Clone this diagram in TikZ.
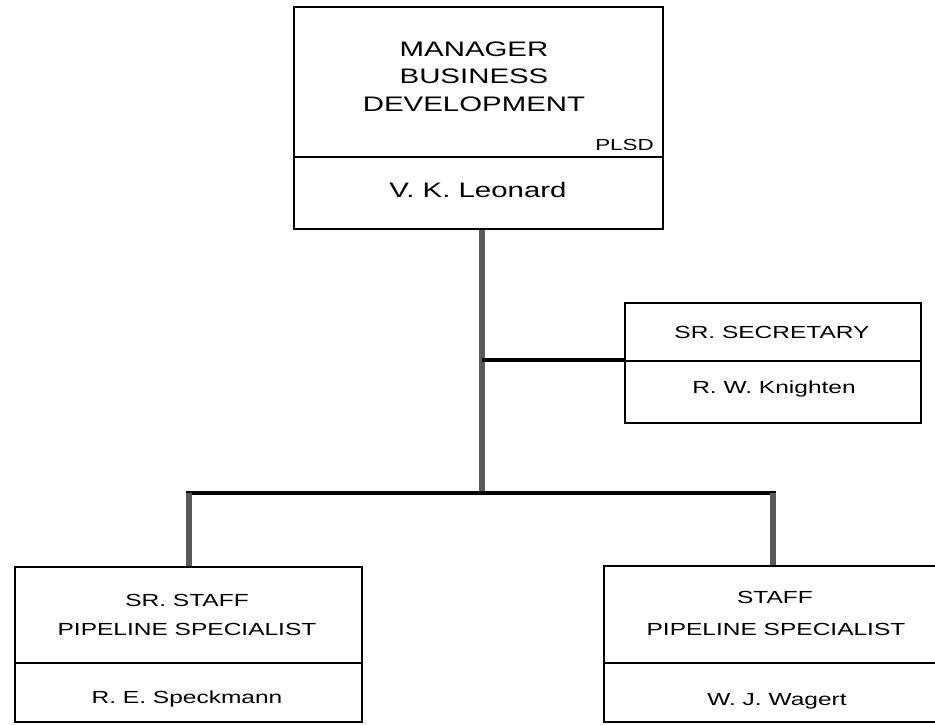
\documentclass[tikz,border=0pt]{standalone}
\usepackage{fontspec}
\setmainfont[FakeStretch=1.4]{Liberation Sans}
\begin{document}
\begin{tikzpicture}[x=1pt,y=-1pt,
  box/.style={draw=black, line width=2pt, rectangle, inner sep=0pt},
  divline/.style={draw=black, line width=2pt},
  vconn/.style={draw=black!65, line width=6pt},
  hconn/.style={draw=black, line width=4.5pt},
  bigtxt/.style={font=\fontsize{21}{25}\selectfont, anchor=base, inner sep=0pt},
  midtxt/.style={font=\fontsize{17.5}{21}\selectfont, anchor=base, inner sep=0pt},
  smalltxt/.style={font=\fontsize{16}{19}\selectfont, anchor=base east, inner sep=0pt}]
\useasboundingbox[fill=white] (0,0) rectangle (935,725);

% boxes
\node[box, minimum width=369pt, minimum height=222pt] (mgr) at (478.5,118) {};
\node[box, minimum width=296pt, minimum height=120pt] (sec) at (773,363) {};
\node[box, minimum width=347pt, minimum height=155pt] (lft) at (188.5,644.5) {};
\node[box, minimum width=338pt, minimum height=156pt] (rgt) at (773,644) {};

% dividers
\draw[divline] (mgr.west |- 0,157) -- (mgr.east |- 0,157);
\draw[divline] (sec.west |- 0,361) -- (sec.east |- 0,361);
\draw[divline] (lft.west |- 0,663) -- (lft.east |- 0,663);
\draw[divline] (rgt.west |- 0,663) -- (rgt.east |- 0,663);

% texts
\node[bigtxt] (t1) at (474,56.5) {MANAGER};
\node[bigtxt] (t2) at (474,83.5) {BUSINESS};
\node[bigtxt] (t3) at (474,111.5) {DEVELOPMENT};
\node[smalltxt] (t4) at (654,150) {PLSD};
\node[bigtxt] (t5) at (478,197) {V. K. Leonard};

\node[midtxt] (s1) at (772,338) {SR. SECRETARY};
\node[midtxt] (s2) at (774,393) {R. W. Knighten};

\node[midtxt] (l1) at (187,606.5) {SR. STAFF};
\node[midtxt] (l2) at (187,635) {PIPELINE SPECIALIST};
\node[midtxt] (l3) at (187,703) {R. E. Speckmann};

\node[midtxt] (r1) at (775,603.5) {STAFF};
\node[midtxt] (r2) at (776,635) {PIPELINE SPECIALIST};
\node[midtxt] (r3) at (777,705) {W. J. Wagert};

% connectors
\coordinate (jsec) at (482,360);
\coordinate (jbar) at (482,493);
\coordinate (lbar) at (188.5,493);
\coordinate (rbar) at (773,493);
\draw[vconn] (mgr.south -| jbar) -- (jbar);
\draw[hconn] (jsec) -- (sec.west |- jsec);
\draw[hconn] ([xshift=-3pt]lbar) -- ([xshift=3pt]rbar);
\draw[vconn] (lbar) -- (lft.north);
\draw[vconn] (rbar) -- (rgt.north);
\end{tikzpicture}
\end{document}
